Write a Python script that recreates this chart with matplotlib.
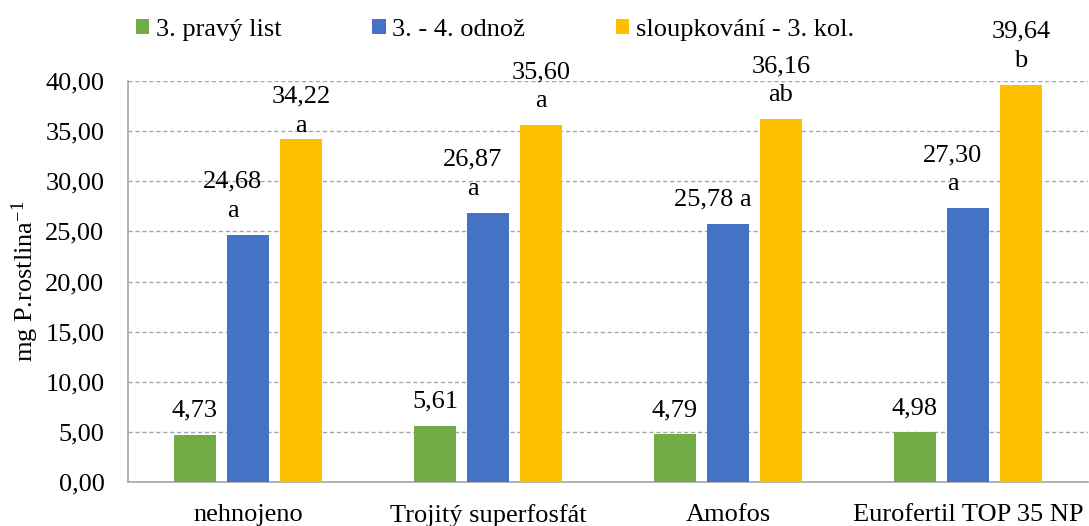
import matplotlib
matplotlib.use("Agg")
import matplotlib.pyplot as plt
import numpy as np

# ---- data ----
categories = ["nehnojeno", "Trojitý superfosfát", "Amofos", "Eurofertil TOP 35 NP"]
series_names = ["3. pravý list", "3. - 4. odnož", "sloupkování - 3. kol."]
green_vals = [4.73, 5.61, 4.79, 4.98]
blue_vals = [24.68, 26.87, 25.78, 27.30]
yellow_vals = [34.22, 35.60, 36.16, 39.64]
green_letters = ["", "", "", ""]
blue_letters = ["a", "a", "a", "a"]
yellow_letters = ["a", "a", "ab", "b"]
yticks = [0, 5, 10, 15, 20, 25, 30, 35, 40]
ylabel = "mg P.rostlina$^{\\mathregular{-1}}$"

# ---- style ----
colors = ["#70AD47", "#4472C4", "#FFC000"]
plt.rcParams['font.family'] = ['Liberation Serif', 'DejaVu Serif']
plt.rcParams['mathtext.fontset'] = 'custom'
plt.rcParams['mathtext.rm'] = 'Liberation Serif'
plt.rcParams['mathtext.it'] = 'Liberation Serif:italic'
FS = 19

fig = plt.figure(figsize=(10.89, 5.26), dpi=100)
W, H = 1089, 526
ax = fig.add_axes([128 / W, (H - 482) / H, 960 / W, 401 / H])

x = np.arange(len(categories))
bw = 0.175
step = 0.221
all_vals = [green_vals, blue_vals, yellow_vals]
all_letters = [green_letters, blue_letters, yellow_letters]
label_dx = [0, -15, 0]  # px horizontal nudge per series

def fmt(v):
    return f"{v:.2f}".replace(".", ",")

for i, (vals, letters, c) in enumerate(zip(all_vals, all_letters, colors)):
    xs = x + (i - 1) * step
    bars = ax.bar(xs, vals, width=bw, color=c, zorder=3, label=series_names[i])
    for j, (b, v, l) in enumerate(zip(bars, vals, letters)):
        if l == "":
            txt = fmt(v)
        elif i == 1 and j == 2:
            txt = fmt(v) + " " + l
        else:
            txt = fmt(v) + "\n" + l
        dy = 13
        if i == 2 and j == 0:
            dy = 2
        ax.annotate(txt, (b.get_x() + b.get_width() / 2, v),
                    xytext=(label_dx[i] * 0.72, dy * 0.72), textcoords="offset points",
                    ha="center", va="bottom", fontsize=FS, linespacing=1.42,
                    annotation_clip=False, zorder=4)

ax.set_xlim(-0.5, 3.5)
ax.set_ylim(0, 40)
ax.set_yticks(yticks)
ax.set_yticklabels([fmt(t) for t in yticks], fontsize=FS)
ax.set_xticks(x)
ax.set_xticklabels(categories, fontsize=FS)
ax.tick_params(axis="both", length=0)
ax.tick_params(axis="y", pad=17)
ax.tick_params(axis="x", pad=16)
ax.yaxis.grid(True, color="#A6A6A6", linestyle=(0, (3, 2)), linewidth=1, zorder=0)
ax.set_axisbelow(True)
for s in ["top", "right"]:
    ax.spines[s].set_visible(False)
for s in ["left", "bottom"]:
    ax.spines[s].set_color("#A6A6A6")
    ax.spines[s].set_linewidth(1.2)

ax.set_ylabel(ylabel, fontsize=FS)
ax.yaxis.set_label_coords(-0.091, 0.5)

leg = fig.legend(loc="upper left", bbox_to_anchor=(136 / W, 1 - 19 / H), ncol=3,
                 frameon=False, fontsize=FS, handlelength=0.5, handleheight=0.5,
                 handletextpad=0.25, columnspacing=3.45, borderpad=0, borderaxespad=0)

fig.savefig("out.png", dpi=100)
